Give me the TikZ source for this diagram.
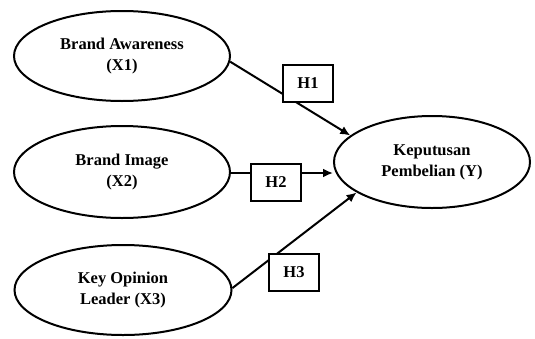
\documentclass[tikz,border=0pt]{standalone}
\usepackage{fontspec}
\setmainfont{Liberation Serif}
\usetikzlibrary{arrows.meta,shapes.geometric}
\begin{document}
\begin{tikzpicture}[x=1pt,y=-1pt,
  var/.style={ellipse,draw,line width=2pt,inner sep=0pt,align=center,
    font=\fontsize{16.5}{21}\selectfont\bfseries},
  hyp/.style={draw,fill=white,line width=2pt,minimum width=50pt,minimum height=37pt,
    inner sep=0pt,font=\fontsize{16.5}{20}\selectfont\bfseries},
  conn/.style={line width=2pt,-{Latex[length=10pt,width=9pt]}}]
\useasboundingbox (0,0) rectangle (535,338);
\node[var,minimum width=216pt,minimum height=90pt] (X1) at (122,56) {Brand Awareness\\(X1)};
\node[var,minimum width=216pt,minimum height=92pt] (X2) at (122,172) {Brand Image\\(X2)};
\node[var,minimum width=217pt,minimum height=90pt] (X3) at (123,290) {Key Opinion\\Leader (X3)};
\node[var,minimum width=196pt,minimum height=92pt] (Y) at (432,162) {Keputusan\\Pembelian (Y)};
\draw[conn] (X1.-3) -- (Y.162);
\draw[conn] ([yshift=-1pt]X2.east) -- ([yshift=-1pt]X2.east -| Y.west);
\draw[conn] (X3.1.6) -- (Y.202);
\node[hyp] (H1) at (308,83) {H1};
\node[hyp] (H2) at (276,182) {H2};
\node[hyp] (H3) at (294,272) {H3};
\end{tikzpicture}
\end{document}
